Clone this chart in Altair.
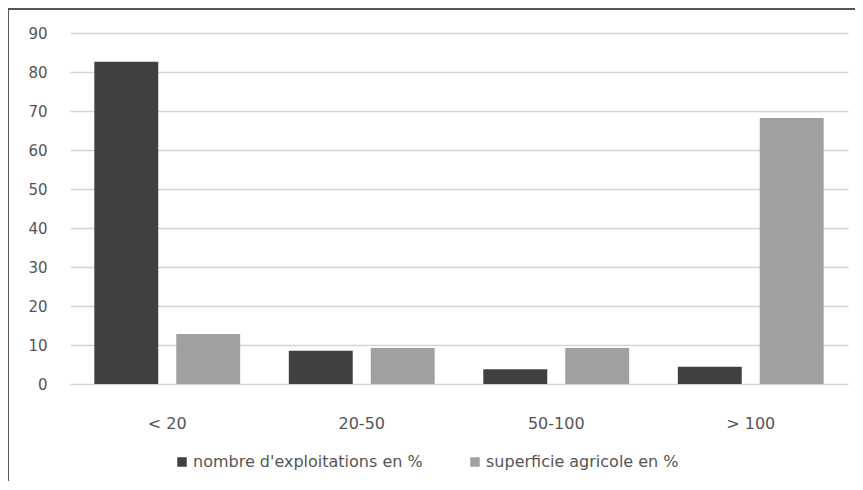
import altair as alt
import pandas as pd

categories = ["< 20", "20-50", "50-100", "> 100"]
series_names = ["nombre d'exploitations en %", "superficie agricole en %"]
nombre = [82.6, 8.5, 3.8, 4.4]
superficie = [12.8, 9.2, 9.2, 68.2]
colors = ["#404040", "#a0a0a0"]

rows = []
for c, a, b in zip(categories, nombre, superficie):
    rows.append({"cat": c, "serie": series_names[0], "val": a})
    rows.append({"cat": c, "serie": series_names[1], "val": b})
df = pd.DataFrame(rows)

FONT = "DejaVu Sans"
TXT = "#555555"
W, H = 778, 351

bars = alt.Chart(df).mark_bar().encode(
    x=alt.X("cat:N", sort=categories,
            scale=alt.Scale(paddingInner=0.25, paddingOuter=0.125),
            axis=alt.Axis(title=None, labelAngle=0, ticks=False, domain=False,
                          labelPadding=31, labelFontSize=16, labelColor=TXT,
                          labelFont=FONT, grid=False)),
    xOffset=alt.XOffset("serie:N", sort=series_names,
                        scale=alt.Scale(paddingInner=0.22, paddingOuter=0)),
    y=alt.Y("val:Q", scale=alt.Scale(domain=[0, 90]),
            axis=alt.Axis(title=None, values=list(range(0, 100, 10)), ticks=False,
                          domain=False, labelPadding=23, labelFontSize=15,
                          labelColor=TXT, labelFont=FONT,
                          gridColor="#d4d4d4", gridWidth=1.5)),
    color=alt.Color("serie:N", sort=series_names,
                    scale=alt.Scale(domain=series_names, range=colors),
                    legend=alt.Legend(title=None, orient="none", direction="horizontal",
                                      legendX=104, legendY=421, symbolType="square",
                                      symbolSize=90, symbolStrokeWidth=0,
                                      labelFontSize=16, labelColor=TXT, labelLimit=0,
                                      labelFont=FONT, columnPadding=44,
                                      labelOffset=3)),
)

border_left = alt.Chart(df).mark_rule(color="#555555", strokeWidth=2).encode(
    x=alt.value(-62), y=alt.value(-24), y2=alt.value(450))
border_top = alt.Chart(df).mark_rule(color="#555555", strokeWidth=2).encode(
    x=alt.value(-62), x2=alt.value(790), y=alt.value(-24))

chart = alt.layer(bars, border_left, border_top).properties(
    width=W, height=H,
    autosize=alt.AutoSizeParams(type="none"),
    padding={"left": 62, "top": 25, "right": 7, "bottom": 97},
).configure_view(stroke=None)

chart.save("out.html", embed_options={"renderer": "svg", "actions": False})
